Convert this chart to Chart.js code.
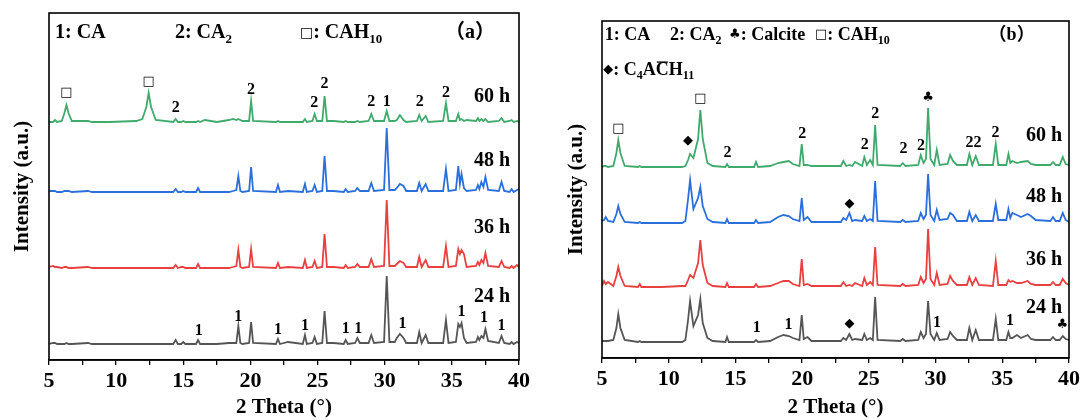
<!DOCTYPE html>
<html><head><meta charset="utf-8">
<script src="https://cdn.jsdelivr.net/npm/chart.js@4/dist/chart.umd.min.js"></script>
<style>
html,body{margin:0;padding:0;background:#fff;width:1083px;height:420px;overflow:hidden}
.w{position:absolute;top:0;width:540px;height:420px}
#wa{left:0}
#wb{left:543px}
</style></head><body>
<div class="w" id="wa"><canvas id="ca"></canvas></div>
<div class="w" id="wb"><canvas id="cb"></canvas></div>
<script>
// ---------- Panel (a) data ----------
const thetaA = [5.0,5.3,5.45,5.6,5.95,6.15,6.3,6.45,6.7,7.9,
 8.2,9.5,11.5,11.95,12.25,12.42,12.6,12.95,14.25,14.43,
 14.6,14.85,15.0,15.15,15.95,16.1,16.25,16.6,17.5,18.4,
 18.7,18.95,19.1,19.25,19.4,19.9,20.05,20.2,21.9,22.05,
 22.2,22.8,23.9,24.06,24.2,24.62,24.78,24.95,25.35,25.52,
 25.7,26.2,26.95,27.09,27.25,27.8,27.96,28.15,28.8,29.0,
 29.2,29.95,30.15,30.35,30.75,30.9,31.13,31.4,31.6,32.4,
 32.57,32.75,33.05,33.25,34.35,34.56,34.75,35.3,35.48,35.6,
 35.72,35.9,36.1,36.8,36.94,37.05,37.2,37.35,37.5,37.7,
 38.5,38.7,38.9,39.3,39.45,39.6,39.85,40.0];
const a60h = [0,0,2,0,1,9,17,9,1,1,
 0,0,1,3,15,29,15,2,0,3,
 0,0,1,0,0,1,0,2,0,2,
 3,2,3,2,1,1,21,1,0,1,
 0,0,0,3,0,1,8,1,1,26,
 1,1,0,1,0,0,1,0,1,8,
 1,1,11,1,1,2,7,2,0,1,
 7,1,6,0,1,19,1,1,8,2,
 3,1,2,1,4,1,3,1,3,0,
 1,4,0,1,2,0,1,0];
const a48h = [1,1,1,0,0,1,1,1,0,1,
 0,0,0,0,0,0,0,0,0,3,
 0,0,1,0,0,4,0,0,0,0,
 1,2,16,1,0,1,25,1,0,7,
 0,1,0,8,0,1,7,0,1,36,
 1,1,0,3,0,1,4,1,1,9,
 1,2,64,2,2,4,8,6,1,1,
 9,1,8,1,1,23,1,2,26,8,
 18,4,1,2,7,3,10,5,15,2,
 1,10,1,0,3,0,2,3];
const a36h = [1,2,1,1,0,1,1,0,0,1,
 0,0,0,0,0,0,0,0,0,3,
 0,1,1,0,0,4,0,0,0,0,
 1,2,18,1,0,1,19,1,0,5,
 0,1,0,8,0,1,7,0,1,34,
 1,1,0,3,0,1,4,1,1,9,
 1,2,68,2,2,4,7,5,1,1,
 11,1,8,1,1,22,1,2,19,14,
 18,14,1,2,6,3,8,5,15,2,
 1,7,1,0,2,0,3,1];
const a24h = [0,1,1,0,0,0,1,0,0,1,
 0,0,0,0,0,0,0,0,0,4,
 0,0,2,0,0,4,0,0,0,1,
 1,1,18,1,0,1,22,1,0,5,
 0,2,0,9,0,1,7,0,1,33,
 1,1,0,4,0,1,6,1,1,9,
 1,2,68,2,2,6,10,6,1,1,
 12,1,9,1,1,24,1,2,20,17,
 21,6,1,2,7,4,8,6,15,3,
 1,8,1,0,2,0,2,1];
// stacking offsets (24h, 36h, 48h, 60h)
const offsetsA = [16, 92, 168, 238];

// ---------- Panel (b) data ----------
const thetaB = [5.0,5.15,5.28,5.45,5.85,6.08,6.22,6.38,6.7,7.7,
 7.83,7.95,9.5,11.0,11.25,11.45,11.6,11.85,12.2,12.37,
 12.55,12.9,13.3,14.25,14.37,14.5,16.4,16.54,16.7,17.6,
 18.2,18.6,19.0,19.3,19.8,19.97,20.12,20.4,20.7,22.9,
 23.09,23.3,23.54,23.75,23.97,24.5,24.66,24.85,25.1,25.3,
 25.47,25.65,27.35,27.54,27.75,28.7,28.89,29.1,29.28,29.44,
 29.62,29.9,30.09,30.3,30.9,31.09,31.3,31.6,32.35,32.53,
 32.75,33.01,33.25,34.3,34.51,34.7,35.3,35.46,35.6,35.75,
 36.1,36.4,36.9,37.15,37.5,38.6,38.8,39.0,39.3,39.53,
 39.75,40.0];
const b60h = [0,1,1,0,1,14,27,14,1,0,
 1,0,0,0,1,7,13,9,28,57,
 28,4,1,0,3,0,0,5,0,1,
 4,5,6,3,1,23,2,2,1,1,
 6,1,2,1,5,1,10,2,7,2,
 42,2,1,4,1,2,12,4,8,59,
 8,2,17,2,3,12,6,2,2,13,
 2,11,2,2,23,2,2,13,4,6,
 4,5,6,3,2,2,5,2,2,10,
 3,2];
const b48h = [2,3,6,2,1,9,17,9,1,0,
 1,0,0,0,2,24,43,14,25,36,
 17,4,1,0,4,0,0,3,0,1,
 6,8,7,4,2,25,3,6,1,1,
 5,3,10,2,3,2,7,2,4,2,
 42,2,1,3,1,2,10,4,8,49,
 8,2,13,3,4,10,8,2,2,11,
 2,8,2,2,19,3,3,14,5,10,
 8,6,9,7,3,2,6,2,2,10,
 3,1];
const b36h = [1,6,3,5,1,11,20,11,1,0,
 3,0,0,1,1,7,12,9,24,47,
 22,4,1,0,4,0,0,3,0,1,
 4,6,6,3,1,28,2,3,1,1,
 5,1,2,1,4,1,9,2,5,2,
 40,2,1,3,1,2,10,4,8,58,
 8,2,14,2,3,11,6,2,2,10,
 2,9,2,1,26,2,2,7,5,6,
 4,4,6,3,2,2,5,2,2,8,
 4,2];
const b24h = [1,1,1,1,2,14,28,14,2,0,
 1,0,0,0,2,22,41,16,27,43,
 19,4,1,0,5,0,0,2,0,1,
 5,7,6,4,2,27,3,5,1,1,
 4,2,8,2,3,2,8,2,4,2,
 45,2,1,3,1,2,10,4,8,41,
 8,2,9,2,3,10,6,2,2,14,
 2,12,2,2,23,2,2,10,4,4,
 7,4,7,3,2,2,5,2,2,6,
 3,2];
const offsetsB = [16, 71, 135, 191];

const seriesNames = ['24 h','36 h','48 h','60 h'];
const seriesColors = ['#555555','#e8403f','#2a6fdc','#3faa6c'];
const xTicks = [5,10,15,20,25,30,35,40];

// ---------- annotation text (data coordinates) ----------
const legendA = [
  {x:5.45, y:327, segs:['1: CA']},
  {x:14.38, y:327, segs:['2: CA',['2','sub']]},
  {x:23.69, y:327, segs:[['□','sym'],': CAH',['10','sub']]},
  {x:36.35, y:327, segs:['（a）'], align:'center'}
];
const timeLabelsA = [{x:38.0,y:63},{x:38.0,y:132},{x:38.0,y:199},{x:38.0,y:263}];
const peakLabelsA = [
  ['□',6.3,267],['□',12.42,278],['2',14.43,252],['2',20.05,270],['2',24.75,257],['2',25.52,276],
  ['2',29.0,258],['1',30.15,258],['2',32.6,258],['2',34.56,267],
  ['1',16.15,29],['1',19.1,43],['1',22.05,30],['1',24.06,34],['1',27.1,31],['1',28.03,31],
  ['1',31.33,36],['1',35.72,48],['1',37.4,42],['1',38.7,34]
];
const legendB = [
  {x:5.2, y:323, segs:['1: CA']},
  {x:10.1, y:323, segs:['2: CA',['2','sub']]},
  {x:14.52, y:323, segs:[['♣','sym'],': Calcite']},
  {x:20.97, y:323, segs:[['□','sym'],': CAH',['10','sub']]},
  {x:35.7, y:323, segs:['（b）'], align:'center'},
  {x:5.1, y:288, segs:[['◆','sym'],': C',['4','sub'],'A',['C','over'],'H',['11','sub']]}
];
const timeLabelsB = [{x:38.13,y:50},{x:38.13,y:98},{x:38.13,y:161},{x:38.13,y:222}];
const peakLabelsB = [
  ['□',6.22,229],['◆',11.45,217],['□',12.37,259],['2',14.4,205],['2',20.0,224],['2',24.7,213],
  ['2',25.47,244],['2',27.6,209],['2',28.9,212],['♣',29.44,260],['22',32.84,215],['2',34.5,225],
  ['◆',23.54,154],
  ['1',16.6,30],['1',18.97,33],['◆',23.54,34],['1',30.1,35],['1',35.58,37],['♣',39.5,33]
];

// ---------- drawing helpers ----------
const SERIF = '"Liberation Serif","Times New Roman","Noto Sans CJK SC",serif';
function segFont(kind, size){
  if (kind === 'sub') return `bold ${Math.round(size*0.66)}px ${SERIF}`;
  if (kind === 'sym') return `${Math.round(size*0.72)}px "DejaVu Sans",sans-serif`;
  return `bold ${size}px ${SERIF}`;
}
function drawRich(ctx, segs, x, y, align, size){
  const parts = segs.map(s => typeof s === 'string' ? {t:s,k:'n'} : {t:s[0],k:s[1]});
  let total = 0;
  for (const p of parts){ ctx.font = segFont(p.k,size); p.w = ctx.measureText(p.t).width; total += p.w; }
  let cx = align === 'left' ? x : (align === 'right' ? x-total : x-total/2);
  ctx.textBaseline = 'middle'; ctx.textAlign = 'left'; ctx.fillStyle = '#000';
  for (const p of parts){
    ctx.font = segFont(p.k,size);
    const dy = p.k === 'sub' ? size*0.32 : 0;
    ctx.fillText(p.t, cx, y+dy);
    if (p.k === 'over'){
      ctx.strokeStyle = '#000'; ctx.lineWidth = 1.3;
      ctx.beginPath(); ctx.moveTo(cx+1, y-size*0.44); ctx.lineTo(cx+p.w-1, y-size*0.44); ctx.stroke();
    }
    cx += p.w;
  }
}
function makeAnnot(legend, legendSize, times, peaks){
  return {
    id:'annot',
    afterDatasetsDraw(chart){
      const {ctx, chartArea:a, scales:{x, y}} = chart;
      ctx.save();
      ctx.strokeStyle = '#000'; ctx.lineWidth = 1.6;
      ctx.strokeRect(a.left, a.top, a.right-a.left, a.bottom-a.top);
      for (const it of legend) drawRich(ctx, it.segs, x.getPixelForValue(it.x), y.getPixelForValue(it.y), it.align||'left', legendSize);
      times.forEach((t,i) => drawRich(ctx, [seriesNames[i]], x.getPixelForValue(t.x), y.getPixelForValue(t.y), 'center', 20));
      for (const [txt, px, py] of peaks){
        const isSym = txt === '□' || txt === '◆' || txt === '♣';
        drawRich(ctx, [isSym ? [txt,'sym'] : txt], x.getPixelForValue(px), y.getPixelForValue(py), 'center', isSym ? 18 : 16);
      }
      ctx.restore();
    }
  };
}
function buildDatasets(theta, list, offsets){
  return list.map((vals,i) => ({
    label: seriesNames[i],
    data: theta.map((t,k) => ({x:t, y:vals[k] + offsets[i]})),
    borderColor: seriesColors[i], borderWidth: 1.8, pointRadius: 0, tension: 0, fill:false
  }));
}
function makeChart(id, theta, list, offsets, yMax, yWidth, xHeight, pad, titlePadTop, annot){
  return new Chart(document.getElementById(id), {
    type:'line',
    data:{ datasets: buildDatasets(theta, list, offsets) },
    options:{
      responsive:true, maintainAspectRatio:false, animation:false, devicePixelRatio:1,
      layout:{ padding: pad },
      plugins:{ legend:{display:false}, tooltip:{enabled:false} },
      scales:{
        x:{
          type:'linear', min:5, max:40,
          ticks:{ stepSize:2.5, autoSkip:false, maxRotation:0, color:'#000', padding:3,
            font:{family:SERIF, size:22, weight:'bold'},
            callback:v => (xTicks.includes(v) ? String(v) : '') },
          grid:{ display:true, drawOnChartArea:false, drawTicks:true, tickLength:5, color:'#000', lineWidth:1.3 },
          border:{ display:true, color:'#000', width:1.6 },
          title:{ display:true, text:'2 Theta (°)', color:'#000', font:{family:SERIF, size:21, weight:'bold'}, padding:{top:0,bottom:0} },
          afterFit:s => { s.height = xHeight; }
        },
        y:{
          type:'linear', min:0, max:yMax,
          ticks:{ display:false },
          grid:{ display:false },
          border:{ display:false },
          title:{ display:true, text:'Intensity (a.u.)', color:'#000', font:{family:SERIF, size:21, weight:'bold'}, padding:{top:titlePadTop,bottom:0} },
          afterFit:s => { s.width = yWidth; }
        }
      }
    },
    plugins:[annot]
  });
}
makeChart('ca', thetaA, [a24h,a36h,a48h,a60h], offsetsA, 347, 49, 60, {left:0,right:21,top:13,bottom:0}, 10,
  makeAnnot(legendA, 20, timeLabelsA, peakLabelsA));
makeChart('cb', thetaB, [b24h,b36h,b48h,b60h], offsetsB, 337, 59, 62, {left:0,right:14,top:21,bottom:0}, 21,
  makeAnnot(legendB, 18, timeLabelsB, peakLabelsB));
</script>
</body></html>
